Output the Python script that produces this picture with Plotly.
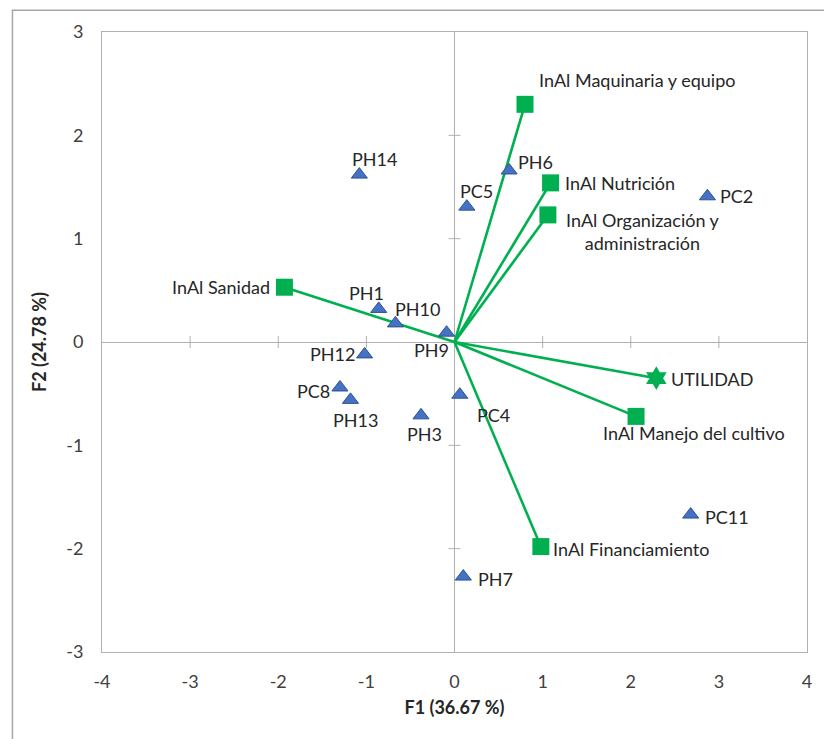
import plotly.graph_objects as go

# Observations (individuals) on the first two factors
obs_names = ["PH14", "PH1", "PH10", "PH12", "PH9", "PC5", "PH6", "PC2",
             "PC8", "PH13", "PH3", "PC4", "PC11", "PH7"]
obs_f1 = [-1.08, -0.86, -0.67, -1.02, -0.09, 0.14, 0.62, 2.87,
          -1.30, -1.18, -0.38, 0.06, 2.68, 0.10]
obs_f2 = [1.62, 0.32, 0.18, -0.12, 0.09, 1.31, 1.66, 1.41,
          -0.44, -0.56, -0.71, -0.51, -1.67, -2.27]

# Active variables (loading vectors)
var_names = ["InAl Maquinaria y equipo", "InAl Nutrición",
             "InAl Organización y<br>administración", "InAl Sanidad",
             "InAl Manejo del cultivo", "InAl Financiamiento"]
var_f1 = [0.80, 1.09, 1.06, -1.93, 2.06, 0.98]
var_f2 = [2.30, 1.54, 1.23, 0.53, -0.72, -1.98]

# Supplementary variable
sup_names = ["UTILIDAD"]
sup_f1 = [2.29]
sup_f2 = [-0.35]

x_ticks = [-4, -3, -2, -1, 0, 1, 2, 3, 4]
x_tick_text = ["-4", "-3", "-2", "-1", "0", "1", "2", "3", "4"]
y_ticks = [-3, -2, -1, 0, 1, 2, 3]
y_tick_text = ["-3", "-2", "-1", "0", "1", "2", "3"]

# label placement (pixel shifts from each marker)
obs_label_style = {
    "PH14": ("center", 15, 16), "PH1": ("center", -12, 16),
    "PH10": ("left", -2, 14), "PH12": ("right", -8, 0),
    "PH9": ("center", -15, -17), "PC5": ("center", 10, 16),
    "PH6": ("left", 7, 8), "PC2": ("left", 11, 0),
    "PC8": ("right", -8, -4), "PH13": ("center", 5, -20),
    "PH3": ("center", 3, -19), "PC4": ("left", 15, -20),
    "PC11": ("left", 12, -2), "PH7": ("left", 13, -2),
}
var_label_style = [("left", 12, 24), ("left", 12, 0), ("center", 95, -17),
                   ("right", -12, 0), ("center", 58, -17), ("left", 10, -2)]
sup_label_style = [("left", 13, -1)]

GREEN = "#00B050"
BLUE = "#4472C4"
AXIS_GRAY = "#B0B0B0"
TEXT = "#262626"
FONT = "Lato"
FS = 18

fig = go.Figure()

# vectors from the origin to each variable
vx, vy = [], []
for a, b in zip(var_f1 + sup_f1, var_f2 + sup_f2):
    vx += [0, a, None]
    vy += [0, b, None]
fig.add_trace(go.Scatter(x=vx, y=vy, mode="lines",
                         line=dict(color=GREEN, width=2.6),
                         hoverinfo="skip", showlegend=False))

fig.add_trace(go.Scatter(x=obs_f1, y=obs_f2, mode="markers", text=obs_names,
                         marker=dict(symbol="triangle-up", size=14, color=BLUE,
                                     line=dict(color="#2F528F", width=1)),
                         showlegend=False))
fig.add_trace(go.Scatter(x=var_f1, y=var_f2, mode="markers",
                         marker=dict(symbol="square", size=17, color=GREEN,
                                     line=dict(width=0)),
                         showlegend=False))
fig.add_trace(go.Scatter(x=sup_f1, y=sup_f2, mode="markers",
                         marker=dict(symbol="hexagram", size=18, color=GREEN,
                                     line=dict(width=0)),
                         showlegend=False))

annotations = []
def add_label(x, y, text, style):
    anchor, dx, dy = style
    annotations.append(dict(x=x, y=y, xref="x", yref="y", text=text,
                            showarrow=False, xanchor=anchor, yanchor="middle",
                            align="center", xshift=dx, yshift=dy,
                            font=dict(family=FONT, size=FS, color=TEXT)))

for n, a, b in zip(obs_names, obs_f1, obs_f2):
    add_label(a, b, n, obs_label_style[n])
for n, a, b, s in zip(var_names, var_f1, var_f2, var_label_style):
    add_label(a, b, n, s)
for n, a, b, s in zip(sup_names, sup_f1, sup_f2, sup_label_style):
    add_label(a, b, n, s)

# small cross tick marks on the zero axes
shapes = []
for t in x_ticks:
    if t in (0, x_ticks[0], x_ticks[-1]):
        continue
    shapes.append(dict(type="line", xref="x", yref="y", x0=t, x1=t,
                       ysizemode="pixel", yanchor=0, y0=-6, y1=6,
                       line=dict(color=AXIS_GRAY, width=1)))
for t in y_ticks:
    if t in (0, y_ticks[0], y_ticks[-1]):
        continue
    shapes.append(dict(type="line", xref="x", yref="y", y0=t, y1=t,
                       xsizemode="pixel", xanchor=0, x0=-6, x1=6,
                       line=dict(color=AXIS_GRAY, width=1)))
# chart area border
shapes.append(dict(type="rect", xref="paper", yref="paper",
                   x0=-0.127, x1=1.1, y0=-0.3, y1=1.035,
                   line=dict(color="#A6A6A6", width=1.5), layer="below"))

axis_common = dict(showgrid=False, zeroline=True, zerolinecolor=AXIS_GRAY,
                   zerolinewidth=1, showline=True, mirror=True,
                   linecolor=AXIS_GRAY, linewidth=1, ticks="",
                   tickfont=dict(family=FONT, size=FS, color="#404040"))

fig.update_layout(
    width=824, height=739,
    margin=dict(l=102, r=15, t=32, b=87),
    paper_bgcolor="white", plot_bgcolor="white",
    xaxis=dict(range=[-4, 4], tickvals=x_ticks, ticktext=x_tick_text,
               ticklabelstandoff=13,
               title=dict(text="<b>F1 (36.67 %)</b>", standoff=10,
                          font=dict(family=FONT, size=FS, color=TEXT)),
               **axis_common),
    yaxis=dict(range=[-3, 3], tickvals=y_ticks, ticktext=y_tick_text,
               ticklabelstandoff=14,
               title=dict(text="<b>F2 (24.78 %)</b>", standoff=14,
                          font=dict(family=FONT, size=FS, color=TEXT)),
               **axis_common),
    annotations=annotations, shapes=shapes,
)

fig.write_html("out.html")
